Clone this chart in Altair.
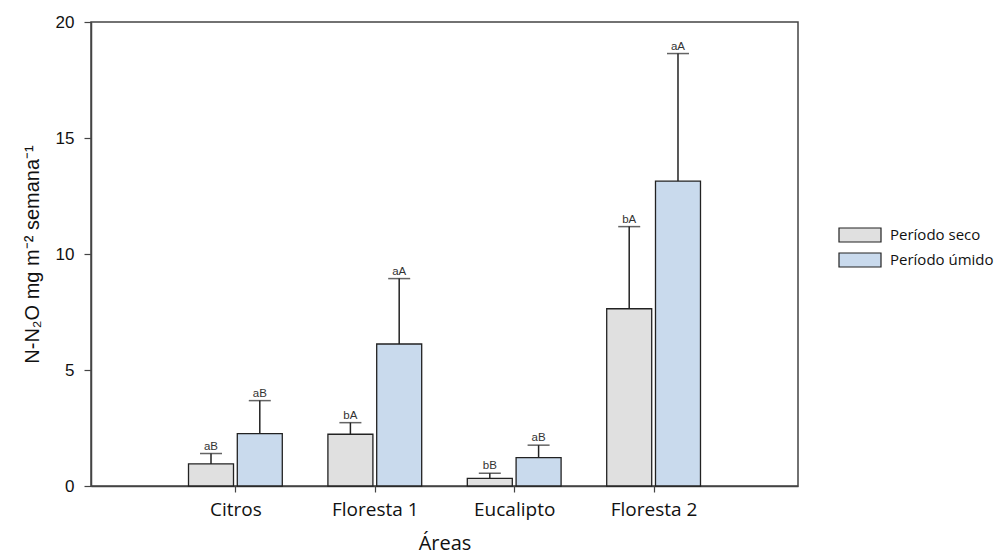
import json
import altair as alt
import pandas as pd

areas = ["Citros", "Floresta 1", "Eucalipto", "Floresta 2"]
periodos = ["Período seco", "Período úmido"]
seco = [0.95, 2.23, 0.33, 7.64]
seco_err = [0.45, 0.50, 0.22, 3.54]
umido = [2.26, 6.12, 1.22, 13.14]
umido_err = [1.42, 2.82, 0.54, 5.50]
seco_letras = ["aB", "bA", "bB", "bA"]
umido_letras = ["aB", "aA", "aB", "aA"]

OFFSET = 0.175
rows = []
for i, a in enumerate(areas):
    for p, vals, errs, lets, off in [
        (periodos[0], seco, seco_err, seco_letras, -OFFSET),
        (periodos[1], umido, umido_err, umido_letras, OFFSET),
    ]:
        rows.append(dict(area=a, periodo=p, pos=i + 1 + off, valor=vals[i],
                         topo=vals[i] + errs[i], letra=lets[i]))
df = pd.DataFrame(rows)

label_expr = json.dumps([""] + areas) + "[datum.value]"

x = alt.X("pos:Q",
          scale=alt.Scale(domain=[0, 5], nice=False, zero=False),
          axis=alt.Axis(values=[1, 2, 3, 4], labelExpr=label_expr, title="Áreas",
                        grid=False, tickSize=6, labelPadding=8, titlePadding=14,
                        labelFont="Open Sans", labelFontSize=19, titleFont="Open Sans",
                        titleFontSize=20, titleFontWeight="normal",
                        labelColor="#111", titleColor="#111"))
y = alt.Y("valor:Q",
          scale=alt.Scale(domain=[0, 20], nice=False),
          axis=alt.Axis(values=[0, 5, 10, 15, 20], title="N-N₂O mg m⁻² semana⁻¹",
                        grid=False, tickSize=7, labelPadding=10, titlePadding=13,
                        labelFont="Liberation Sans", labelFontSize=17,
                        titleFont="Liberation Sans", titleFontSize=20,
                        titleFontWeight="normal", labelColor="#111", titleColor="#111"))

base = alt.Chart(df)

rules = base.mark_rule(color="#222", strokeWidth=1.5).encode(
    x=x, y=y, y2="topo:Q")
caps = base.mark_tick(orient="horizontal", size=22, thickness=1.5, color="#222").encode(
    x=x, y="topo:Q")
bars = base.mark_bar(size=45, stroke="#222", strokeWidth=1.3).encode(
    x=x, y=y,
    color=alt.Color("periodo:N",
                    scale=alt.Scale(domain=periodos, range=["#e0e0e0", "#c9daed"]),
                    legend=alt.Legend(title=None, orient="none", legendX=761, legendY=205,
                                      symbolType="M-3,-1H3V1H-3Z", symbolSize=196,
                                      symbolStrokeColor="#222", symbolStrokeWidth=1.2,
                                      symbolOpacity=1, labelOffset=22, rowPadding=5,
                                      padding=0, labelFont="Open Sans", labelFontSize=15,
                                      labelColor="#111", labelLimit=200)))
texts = base.mark_text(baseline="alphabetic", dy=-4, fontSize=11.5,
                       font="Liberation Sans", color="#333").encode(
    x=x, y="topo:Q", text="letra:N")

chart = alt.layer(rules, bars, caps, texts).properties(
    width=707, height=464,
    padding={"left": 83, "top": 14, "right": 200, "bottom": 70},
    autosize="none",
).configure_view(stroke="#444", strokeWidth=1.5).configure_axis(
    domainColor="#444", domainWidth=1.5, tickColor="#444", tickWidth=1.2
)

chart.save("out.html", embed_options={"renderer": "svg", "actions": False})
